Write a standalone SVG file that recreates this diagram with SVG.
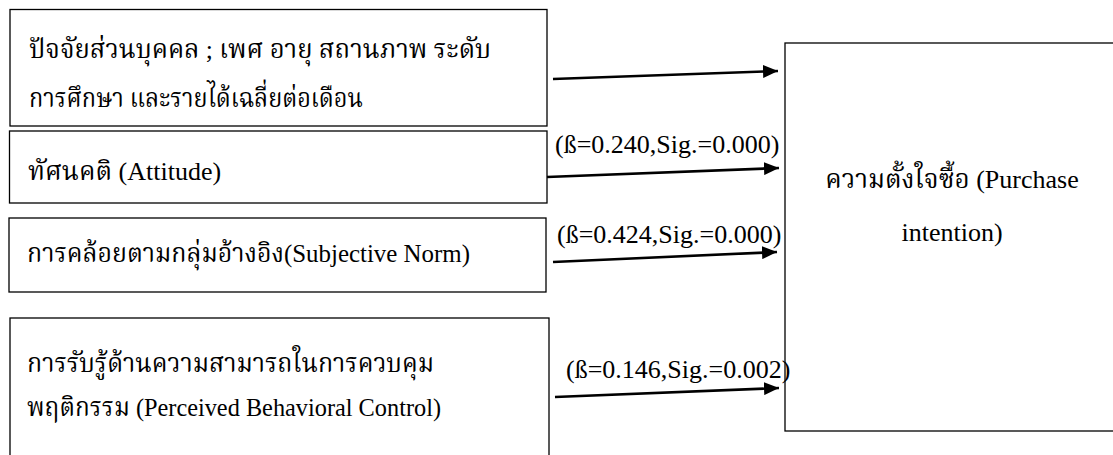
<svg xmlns="http://www.w3.org/2000/svg" width="1113" height="455" viewBox="0 0 1113 455">
<style>
.box{fill:#fff;stroke:#000;stroke-width:1.3}
.t{font-family:"Liberation Serif","Noto Serif Thai","Noto Sans Thai",serif;font-size:26px;fill:#000}
.c{stroke:#000;stroke-width:2.6;fill:none}
</style>
<defs>
<marker id="ah" markerWidth="15" markerHeight="13" refX="15" refY="6.5" orient="auto" markerUnits="userSpaceOnUse" viewBox="0 0 15 13">
<path d="M0,0 L15,6.5 L0,13 z" fill="#000"/>
</marker>
</defs>
<rect width="1113" height="455" fill="#fff"/>
<g id="n1">
<rect class="box" x="10" y="9.5" width="537" height="116.5"/>
<text class="t" x="29" y="58" textLength="462" lengthAdjust="spacingAndGlyphs">ปัจจัยส่วนบุคคล ; เพศ อายุ สถานภาพ ระดับ</text>
<text class="t" x="29" y="107" textLength="334" lengthAdjust="spacingAndGlyphs">การศึกษา  และรายได้เฉลี่ยต่อเดือน</text>
</g>
<g id="n2">
<rect class="box" x="9.5" y="131" width="537.5" height="72"/>
<text class="t" x="28" y="180">ทัศนคติ (Attitude)</text>
</g>
<g id="n3">
<rect class="box" x="9" y="218" width="537" height="74"/>
<text class="t" x="27" y="262" textLength="443" lengthAdjust="spacingAndGlyphs">การคล้อยตามกลุ่มอ้างอิง(Subjective Norm)</text>
</g>
<g id="n4">
<rect class="box" x="10" y="318" width="539" height="150"/>
<text class="t" x="27" y="372" textLength="407" lengthAdjust="spacingAndGlyphs">การรับรู้ด้านความสามารถในการควบคุม</text>
<text class="t" x="27" y="416" textLength="414" lengthAdjust="spacingAndGlyphs">พฤติกรรม (Perceived Behavioral Control)</text>
</g>
<g id="n5">
<rect class="box" x="785" y="43" width="340" height="388"/>
<text class="t" x="952" y="188" text-anchor="middle">ความตั้งใจซื้อ (Purchase</text>
<text class="t" x="952" y="241" text-anchor="middle">intention)</text>
</g>
<g id="connectors">
<line class="c" x1="553" y1="79" x2="778" y2="71" marker-end="url(#ah)"/>
<line class="c" x1="547" y1="177" x2="779" y2="168" marker-end="url(#ah)"/>
<line class="c" x1="553" y1="262" x2="777" y2="252" marker-end="url(#ah)"/>
<line class="c" x1="555" y1="397" x2="779" y2="388" marker-end="url(#ah)"/>
<text class="t" x="555" y="153">(ß=0.240,Sig.=0.000)</text>
<text class="t" x="557" y="243">(ß=0.424,Sig.=0.000)</text>
<text class="t" x="566" y="378">(ß=0.146,Sig.=0.002)</text>
</g>
</svg>
